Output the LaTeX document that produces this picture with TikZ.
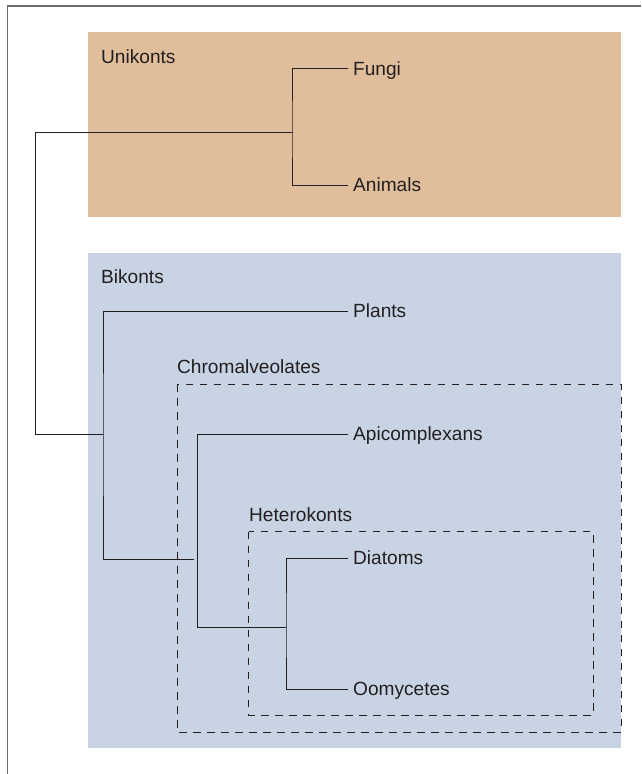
\documentclass[tikz,border=0pt]{standalone}
\usepackage{fontspec}
\setmainfont{Liberation Sans}
\definecolor{tanbg}{RGB}{224,190,156}
\definecolor{bluebg}{RGB}{200,211,228}
\definecolor{ink}{RGB}{35,31,32}
\definecolor{framegray}{RGB}{110,110,110}
\tikzset{
  branch/.style={draw=ink, line width=1pt},
  groupbox/.style={draw=ink, line width=1pt, dash pattern=on 7.5pt off 6.5pt},
  leaf/.style={anchor=west, inner xsep=5pt, inner ysep=0pt, text height=13.7pt, text depth=0pt, text=ink, font=\fontsize{19.1}{22}\selectfont},
  grouplabel/.style={anchor=base west, inner sep=0pt, text=ink, font=\fontsize{19.1}{22}\selectfont}
}
\begin{document}
\begin{tikzpicture}[x=1pt,y=-1pt]
\useasboundingbox (0,0) rectangle (641,774);
% frame
\draw[framegray, line width=1.4pt] (7.5,774) -- (7.5,6) -- (641,6);
% background panels
\fill[tanbg] (88,32) rectangle (621,216.7);
\fill[bluebg] (88,253) rectangle (621,747.7);
% dashed group boxes
\draw[groupbox] (177,384) rectangle (621,732);
\draw[groupbox] (248.6,531.7) rectangle (593,715);
% group labels
\node[grouplabel] (unik) at (101,63) {Unikonts};
\node[grouplabel] (bik) at (101,283) {Bikonts};
\node[grouplabel] (chrom) at (177,373) {Chromalveolates};
\node[grouplabel] (het) at (249,521.7) {Heterokonts};
% leaves
\node[leaf] (fungi) at (348,68.3) {Fungi};
\node[leaf] (animals) at (348,185) {Animals};
\node[leaf] (plants) at (348,311) {Plants};
\node[leaf] (apico) at (348,434) {Apicomplexans};
\node[leaf] (diatoms) at (348,558) {Diatoms};
\node[leaf] (oomy) at (348,689) {Oomycetes};
% internal points
\coordinate (u) at (292,132);
\coordinate (root) at (35,434);
\coordinate (b) at (103,434);
\coordinate (cj) at (194,559);
\coordinate (c) at (197.5,559);
\coordinate (h) at (286,627);
% branches
\draw[branch] (fungi.west) -| (u) |- (animals.west);
\draw[branch] (u) -| (root) -- (b);
\draw[branch] (plants.west) -| (b) |- (cj);
\draw[branch] (apico.west) -| (c) |- (h);
\draw[branch] (diatoms.west) -| (h) |- (oomy.west);
\end{tikzpicture}
\end{document}
